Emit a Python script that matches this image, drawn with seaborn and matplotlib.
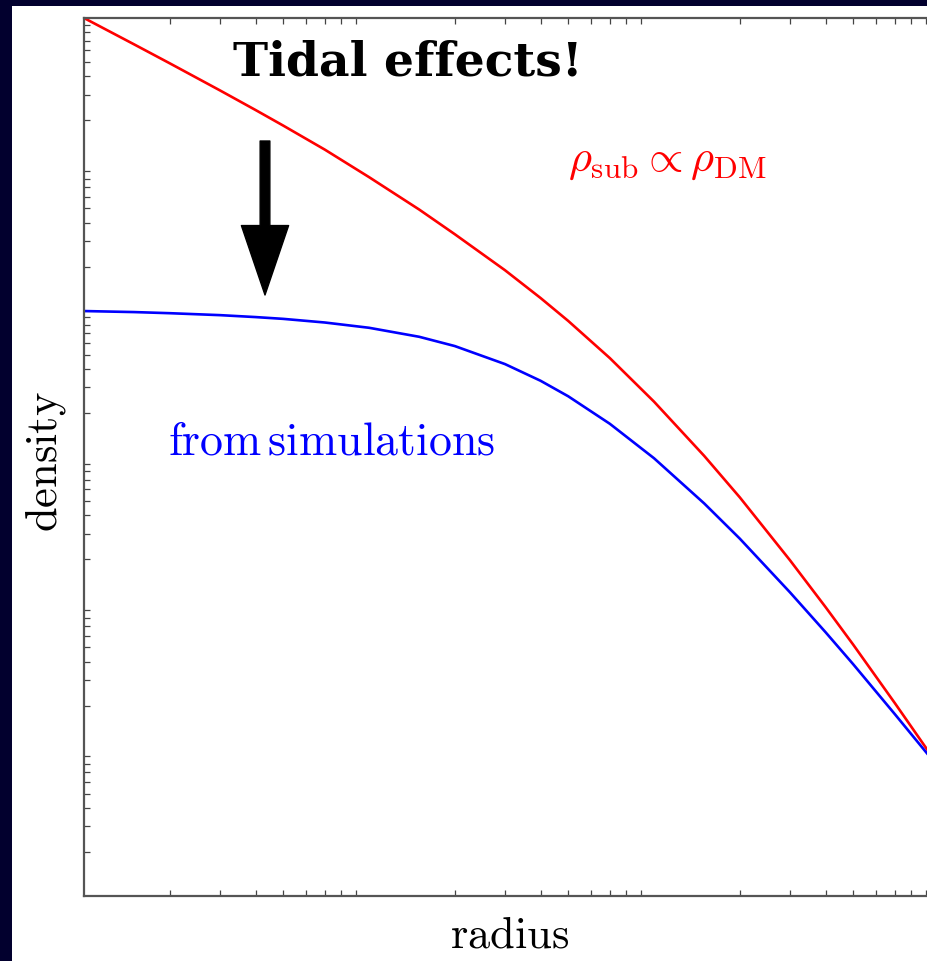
import numpy as np
import pandas as pd
import matplotlib
matplotlib.use("Agg")
import matplotlib.pyplot as plt
from matplotlib.patches import Rectangle
from matplotlib.ticker import LogLocator, NullFormatter
import seaborn as sns

# radius samples shared by both profiles
radius = [0.01, 0.015, 0.02, 0.03, 0.04, 0.05, 0.07, 0.1, 0.15, 0.2, 0.3,
          0.4, 0.5, 0.7, 1.0, 1.5, 2.0, 3.0, 4.0, 5.0, 7.0, 10.0]

# cuspy profile tracking the dark-matter host (rho_sub ∝ rho_DM)
density_dm = [100.0, 66.0, 49.0, 32.0, 23.5, 18.4, 12.6, 8.18, 4.91, 3.33, 1.89,
              1.22, 0.851, 0.474, 0.239, 0.1018, 0.0530, 0.0197, 0.00942, 0.00522,
              0.00208, 0.000767]

# cored profile measured in simulations (tidally stripped)
density_sim = [0.994, 0.978, 0.961, 0.932, 0.904, 0.879, 0.830, 0.764, 0.663, 0.573,
               0.4315, 0.3318, 0.2600, 0.1686, 0.0981, 0.04818, 0.02768, 0.01189,
               0.006344, 0.003835, 0.001748, 0.000750]

W, H = 927, 962

sns.set_theme(style="white")
plt.rcParams["mathtext.fontset"] = "cm"

df = pd.DataFrame({
    "radius": radius * 2,
    "density": density_dm + density_sim,
    "profile": ["dm"] * len(radius) + ["sim"] * len(radius),
})

fig = plt.figure(figsize=(W / 100, H / 100), dpi=100)
fig.patch.set_facecolor("#02002e")
fig.add_artist(Rectangle((12 / W, 0), 1, 1 - 7 / H, transform=fig.transFigure,
                         facecolor="white", edgecolor="none", zorder=-5))

# axes: x from 84 px to 939 px (runs slightly past the right edge), y from 19 px to 897 px
ax = fig.add_axes([84 / W, 1 - 897 / H, (939 - 84) / W, (897 - 19) / H])
ax.set_facecolor("white")

sns.lineplot(data=df, x="radius", y="density", hue="profile",
             palette={"dm": "#ff0000", "sim": "#0000ff"},
             linewidth=1.9, legend=False, ax=ax, sort=True, estimator=None)

ax.set_xscale("log")
ax.set_yscale("log")
ax.set_xlim(0.01, 10)
ax.set_ylim(1e-4, 1e2)
ax.set_xlabel("")
ax.set_ylabel("")

for axis in (ax.xaxis, ax.yaxis):
    axis.set_major_formatter(NullFormatter())
    axis.set_minor_formatter(NullFormatter())
    axis.set_minor_locator(LogLocator(base=10, subs=np.arange(2, 10), numticks=100))
ax.tick_params(which="major", length=0)
ax.tick_params(which="minor", direction="in", length=4, width=0.9, color="#444444",
               top=True, bottom=True, left=True, right=True)

for s in ax.spines.values():
    s.set_color("#555555")
    s.set_linewidth(1.6)
    s.set_visible(True)


def px(x, y):
    return x / W, 1 - y / H


fig.text(*px(408, 62), "Tidal effects!", family="DejaVu Serif", weight="bold",
         fontsize=34, color="black", ha="center", va="center")

fig.text(*px(667, 160), r"$\rho_{\rm sub} \propto \rho_{\rm DM}$", fontsize=32,
         color="#ff0000", ha="center", va="center")

fig.text(*px(332, 442), r"$\mathrm{from\,simulations}$", fontsize=33,
         color="#0000ff", ha="center", va="center")

fig.text(*px(46, 462), r"$\mathrm{density}$", fontsize=32, rotation=90,
         color="black", ha="center", va="center")

fig.text(*px(510, 935), r"$\mathrm{radius}$", fontsize=32,
         color="black", ha="center", va="center")

# downward arrow pointing from the cusp to the cored profile
ax.annotate("", xy=px(265, 296), xytext=px(265, 142),
            xycoords="figure fraction", textcoords="figure fraction",
            arrowprops=dict(facecolor="black", edgecolor="black", width=7,
                            headwidth=34, headlength=50, shrink=0))

fig.savefig("out.png", dpi=100, facecolor=fig.get_facecolor())
